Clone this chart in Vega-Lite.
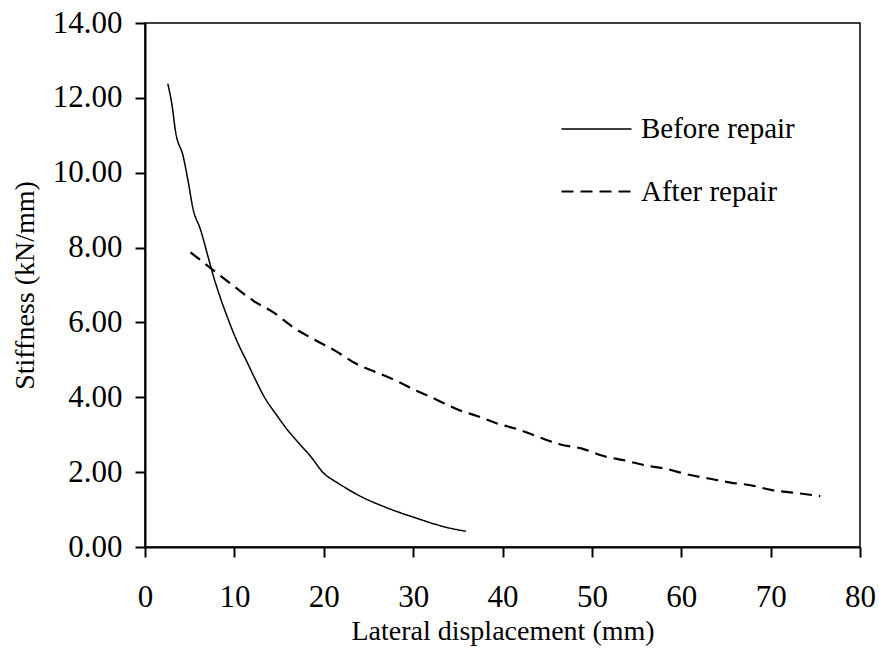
{
  "$schema": "https://vega.github.io/schema/vega-lite/v6.json",
  "autosize": {"type": "none"},
  "padding": {"left": 145, "top": 23, "right": 19, "bottom": 103},
  "width": 715,
  "height": 524,
  "background": "white",
  "config": {
    "font": "Liberation Serif",
    "view": {"stroke": "black", "strokeWidth": 1.5},
    "axis": {
      "grid": false,
      "labelFlush": false,
      "labelOverlap": false,
      "domainColor": "black",
      "domainWidth": 2,
      "tickColor": "black",
      "tickWidth": 2,
      "tickSize": 10,
      "labelColor": "black",
      "labelFont": "Liberation Serif",
      "labelFontSize": 31,
      "titleFont": "Liberation Serif",
      "titleFontSize": 28,
      "titleFontWeight": "normal",
      "titleColor": "black"
    },
    "legend": {
      "labelFont": "Liberation Serif",
      "labelFontSize": 29,
      "labelColor": "black"
    }
  },
  "data": {
    "values": [
      {"series": "Before repair", "x": 2.55, "y": 12.38},
      {"series": "Before repair", "x": 3.04, "y": 11.78},
      {"series": "Before repair", "x": 3.41, "y": 11.11},
      {"series": "Before repair", "x": 4.27, "y": 10.44},
      {"series": "Before repair", "x": 4.79, "y": 9.82},
      {"series": "Before repair", "x": 5.39, "y": 9.02},
      {"series": "Before repair", "x": 6.21, "y": 8.48},
      {"series": "Before repair", "x": 7.14, "y": 7.68},
      {"series": "Before repair", "x": 7.7, "y": 7.2},
      {"series": "Before repair", "x": 8.3, "y": 6.75},
      {"series": "Before repair", "x": 9.2, "y": 6.15},
      {"series": "Before repair", "x": 10.2, "y": 5.55},
      {"series": "Before repair", "x": 11.4, "y": 4.95},
      {"series": "Before repair", "x": 12.4, "y": 4.45},
      {"series": "Before repair", "x": 13.3, "y": 4.03},
      {"series": "Before repair", "x": 14.8, "y": 3.5},
      {"series": "Before repair", "x": 15.9, "y": 3.14},
      {"series": "Before repair", "x": 17.0, "y": 2.83},
      {"series": "Before repair", "x": 18.5, "y": 2.43},
      {"series": "Before repair", "x": 20.0, "y": 1.97},
      {"series": "Before repair", "x": 21.5, "y": 1.72},
      {"series": "Before repair", "x": 23.0, "y": 1.5},
      {"series": "Before repair", "x": 24.4, "y": 1.32},
      {"series": "Before repair", "x": 26.0, "y": 1.15},
      {"series": "Before repair", "x": 28.5, "y": 0.92},
      {"series": "Before repair", "x": 30.5, "y": 0.76},
      {"series": "Before repair", "x": 32.3, "y": 0.62},
      {"series": "Before repair", "x": 34.0, "y": 0.51},
      {"series": "Before repair", "x": 35.9, "y": 0.42},
      {"series": "After repair", "x": 5.09, "y": 7.87},
      {"series": "After repair", "x": 7.52, "y": 7.42},
      {"series": "After repair", "x": 8.26, "y": 7.28},
      {"series": "After repair", "x": 10.31, "y": 6.9},
      {"series": "After repair", "x": 12.17, "y": 6.57},
      {"series": "After repair", "x": 14.41, "y": 6.26},
      {"series": "After repair", "x": 16.64, "y": 5.86},
      {"series": "After repair", "x": 18.88, "y": 5.55},
      {"series": "After repair", "x": 21.31, "y": 5.24},
      {"series": "After repair", "x": 23.74, "y": 4.88},
      {"series": "After repair", "x": 25.97, "y": 4.66},
      {"series": "After repair", "x": 28.21, "y": 4.43},
      {"series": "After repair", "x": 30.45, "y": 4.17},
      {"series": "After repair", "x": 32.68, "y": 3.93},
      {"series": "After repair", "x": 34.92, "y": 3.68},
      {"series": "After repair", "x": 37.16, "y": 3.5},
      {"series": "After repair", "x": 39.4, "y": 3.3},
      {"series": "After repair", "x": 41.8, "y": 3.14},
      {"series": "After repair", "x": 44.24, "y": 2.92},
      {"series": "After repair", "x": 46.48, "y": 2.74},
      {"series": "After repair", "x": 48.9, "y": 2.63},
      {"series": "After repair", "x": 51.32, "y": 2.43},
      {"series": "After repair", "x": 53.56, "y": 2.32},
      {"series": "After repair", "x": 55.99, "y": 2.18},
      {"series": "After repair", "x": 58.42, "y": 2.08},
      {"series": "After repair", "x": 60.66, "y": 1.94},
      {"series": "After repair", "x": 63.09, "y": 1.83},
      {"series": "After repair", "x": 65.51, "y": 1.72},
      {"series": "After repair", "x": 67.75, "y": 1.65},
      {"series": "After repair", "x": 70.17, "y": 1.52},
      {"series": "After repair", "x": 72.6, "y": 1.45},
      {"series": "After repair", "x": 75.56, "y": 1.36}
    ]
  },
  "mark": {"type": "line", "color": "black", "interpolate": "monotone"},
  "encoding": {
    "x": {
      "field": "x",
      "type": "quantitative",
      "scale": {"domain": [0, 80], "nice": false},
      "axis": {"values": [0, 10, 20, 30, 40, 50, 60, 70, 80], "title": "Lateral displacement (mm)", "labelPadding": 25, "titlePadding": 5, "format": "d"}
    },
    "y": {
      "field": "y",
      "type": "quantitative",
      "scale": {"domain": [0, 14], "nice": false},
      "axis": {"values": [0, 2, 4, 6, 8, 10, 12, 14], "format": ".2f", "title": "Stiffness (kN/mm)", "labelPadding": 13, "titlePadding": 13}
    },
    "strokeDash": {
      "field": "series",
      "type": "nominal",
      "scale": {"domain": ["Before repair", "After repair"], "range": [[1, 0], [12, 7]]},
      "legend": {
        "title": null,
        "orient": "none",
        "legendX": 415,
        "legendY": 70,
        "symbolType": "stroke",
        "symbolSize": 4900,
        "symbolStrokeColor": "black",
        "symbolStrokeWidth": 2,
        "labelOffset": 8,
        "rowPadding": 11
      }
    },
    "strokeWidth": {
      "field": "series",
      "type": "nominal",
      "scale": {"domain": ["Before repair", "After repair"], "range": [1.5, 2.2]},
      "legend": null
    },
    "detail": {"field": "series"}
  }
}
